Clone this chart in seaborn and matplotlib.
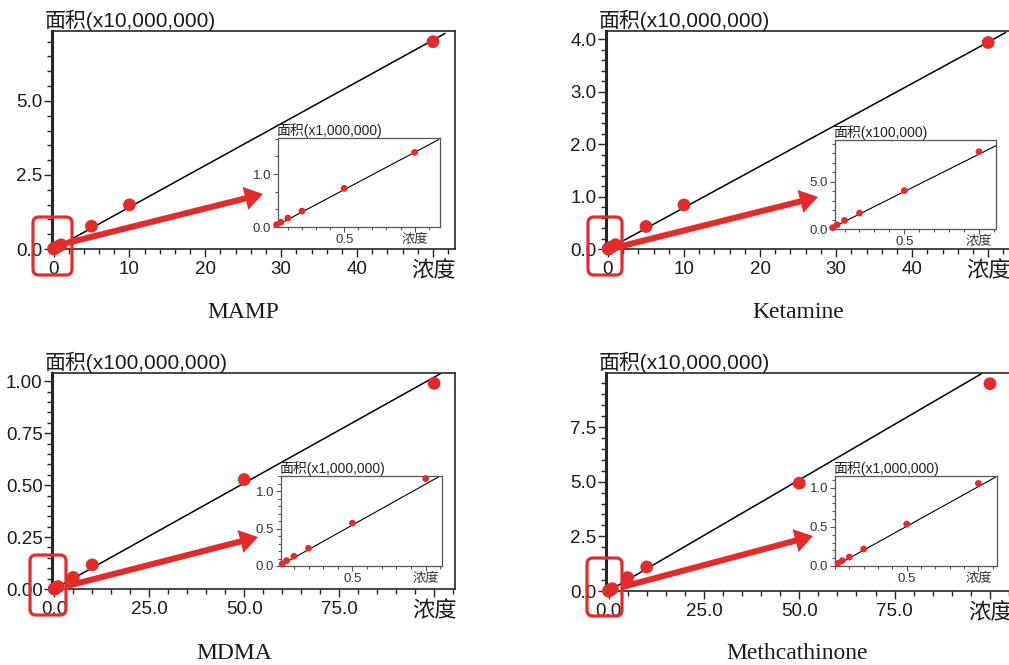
import numpy as np
import pandas as pd
import seaborn as sns
import matplotlib.pyplot as plt
from matplotlib.patches import FancyBboxPatch, FancyArrowPatch
from matplotlib.ticker import MultipleLocator

# low standards (shown in the insets) and high standards (main plots)
low_conc = [0.02, 0.05, 0.1, 0.2, 0.5, 1.0]
high_conc_50 = [5, 10, 50]
high_conc_100 = [5, 10, 50, 100]

# MAMP  (inset x1,000,000 / main x10,000,000)
mamp_low = [0.045, 0.09, 0.17, 0.30, 0.73, 1.41]
mamp_high = [0.77, 1.49, 7.0]
mamp_fit_x, mamp_fit_y = [0, 51.6], [0, 7.28]
mamp_in_fit_x, mamp_in_fit_y = [0, 1.17], [0, 1.65]

# Ketamine  (inset x100,000 / main x10,000,000)
ket_low = [0.14, 0.45, 0.90, 1.68, 4.05, 8.15]
ket_high = [0.43, 0.84, 3.94]
ket_fit_x, ket_fit_y = [0, 52.3], [0, 4.13]
ket_in_fit_x, ket_in_fit_y = [0, 1.114], [0, 8.78]

# MDMA  (inset x1,000,000 / main x100,000,000)
mdma_low = [0.027, 0.072, 0.13, 0.237, 0.572, 1.165]
mdma_high = [0.056, 0.116, 0.527, 0.99]
mdma_fit_x, mdma_fit_y = [0, 101.6], [0, 1.036]
mdma_in_fit_x, mdma_in_fit_y = [0, 1.09], [0, 1.19]

# Methcathinone  (inset x1,000,000 / main x10,000,000)
meth_low = [0.034, 0.068, 0.115, 0.217, 0.536, 1.055]
meth_high = [0.61, 1.10, 4.93, 9.48]
meth_fit_x, meth_fit_y = [0, 97.7], [0, 9.93]
meth_in_fit_x, meth_in_fit_y = [0, 1.124], [0, 1.14]

x_labels_50 = ["0", "10", "20", "30", "40", "浓度"]
x_labels_100 = ["0.0", "25.0", "50.0", "75.0", "浓度"]

W, H = 1009, 665
red = "#e42b2b"

sns.set_style("ticks")
plt.rcParams["font.family"] = ["Liberation Sans", "Noto Sans CJK SC"]

fig = plt.figure(figsize=(W / 100, H / 100), dpi=100)


def rect(l, t, r, b):
    return [l / W, 1 - b / H, (r - l) / W, (b - t) / H]


def inch(x, y):
    return (x / 100, (H - y) / 100)


panels = [
    dict(name="MAMP", low=mamp_low, high=mamp_high, hc=high_conc_50, scale=0.1,
         fit=(mamp_fit_x, mamp_fit_y), in_fit=(mamp_in_fit_x, mamp_in_fit_y),
         main=rect(52, 31, 455, 249), inset=rect(278, 138, 440, 227),
         xlim=(-0.2, 52.9), ylim=(0, 7.36), xt=[0, 10, 20, 30, 40, 50], xl=x_labels_50, xm=2,
         yt=[0, 2.5, 5.0], yl=["0.0", "2.5", "5.0"], ym=0.5, ylab="面积(x10,000,000)",
         in_xlim=(0.03, 1.18), in_ylim=(0, 1.68), in_yt=[0, 1.0], in_yl=["0.0", "1.0"], in_ym=1 / 3,
         in_lab="面积(x1,000,000)", box=(33, 217, 72, 275), arrow=((67, 243), (263, 194)),
         title=(243, 318)),
    dict(name="Ketamine", low=ket_low, high=ket_high, hc=high_conc_50, scale=0.01,
         fit=(ket_fit_x, ket_fit_y), in_fit=(ket_in_fit_x, ket_in_fit_y),
         main=rect(606, 31, 1011, 249), inset=rect(835, 140, 996, 229),
         xlim=(-0.26, 53.0), ylim=(0, 4.16), xt=[0, 10, 20, 30, 40, 50], xl=x_labels_50, xm=2,
         yt=[0, 1, 2, 3, 4], yl=["0.0", "1.0", "2.0", "3.0", "4.0"], ym=0.2, ylab="面积(x10,000,000)",
         in_xlim=(0.036, 1.114), in_ylim=(0, 9.38), in_yt=[0, 5.0], in_yl=["0.0", "5.0"], in_ym=1.0,
         in_lab="面积(x100,000)", box=(588, 217, 622, 275), arrow=((622, 246), (818, 197)),
         title=(798, 318)),
    dict(name="MDMA", low=mdma_low, high=mdma_high, hc=high_conc_100, scale=0.01,
         fit=(mdma_fit_x, mdma_fit_y), in_fit=(mdma_in_fit_x, mdma_in_fit_y),
         main=rect(52, 373, 455, 589), inset=rect(281, 476, 442, 566),
         xlim=(-0.6, 105.5), ylim=(0, 1.04), xt=[0, 25, 50, 75, 100], xl=x_labels_100, xm=5,
         yt=[0, 0.25, 0.5, 0.75, 1.0], yl=["0.00", "0.25", "0.50", "0.75", "1.00"], ym=0.05,
         ylab="面积(x100,000,000)",
         in_xlim=(0.012, 1.112), in_ylim=(0, 1.2), in_yt=[0, 0.5, 1.0], in_yl=["0.0", "0.5", "1.0"], in_ym=0.1,
         in_lab="面积(x1,000,000)", box=(30, 555, 66, 615), arrow=((67, 586), (258, 537)),
         title=(234, 659)),
    dict(name="Methcathinone", low=meth_low, high=meth_high, hc=high_conc_100, scale=0.1,
         fit=(meth_fit_x, meth_fit_y), in_fit=(meth_in_fit_x, meth_in_fit_y),
         main=rect(606, 373, 1011, 591), inset=rect(835, 476, 997, 566),
         xlim=(-0.66, 105.5), ylim=(0, 9.97), xt=[0, 25, 50, 75, 100], xl=x_labels_100, xm=5,
         yt=[0, 2.5, 5.0, 7.5], yl=["0.0", "2.5", "5.0", "7.5"], ym=0.5, ylab="面积(x10,000,000)",
         in_xlim=(0.0, 1.13), in_ylim=(0, 1.15), in_yt=[0, 0.5, 1.0], in_yl=["0.0", "0.5", "1.0"], in_ym=0.1,
         in_lab="面积(x1,000,000)", box=(587, 558, 622, 616), arrow=((622, 587), (813, 536)),
         title=(797, 659)),
]

for p in panels:
    # main calibration plot
    ax = fig.add_axes(p["main"])
    mx = low_conc + p["hc"]
    my = [v * p["scale"] for v in p["low"]] + p["high"]
    sns.lineplot(x=p["fit"][0], y=p["fit"][1], ax=ax, color="black", lw=1.1, zorder=2)
    sns.scatterplot(x=mx, y=my, ax=ax, color=red, s=85, edgecolor="none",
                    clip_on=False, zorder=3, legend=False)
    ax.set_xlim(p["xlim"])
    ax.set_ylim(p["ylim"])
    ax.set_xticks(p["xt"], p["xl"])
    ax.set_yticks(p["yt"], p["yl"])
    ax.xaxis.set_minor_locator(MultipleLocator(p["xm"]))
    ax.yaxis.set_minor_locator(MultipleLocator(p["ym"]))
    ax.tick_params(which="major", length=5.8, width=1, labelsize=13.5, labelcolor="#1a1a1a")
    ax.tick_params(which="minor", length=3.6, width=1)
    ax.tick_params(axis="x", pad=3)
    ax.tick_params(axis="y", pad=1)
    for t in ax.get_xticklabels():
        if t.get_text() == "浓度":
            t.set_fontsize(16)
    for s in ["top", "right", "bottom"]:
        ax.spines[s].set_linewidth(1.2)
    ax.spines["left"].set_linewidth(2.2)
    ax.set_xlabel("")
    ax.set_ylabel("")
    ax.annotate(p["ylab"], xy=(0, 1), xycoords="axes fraction", xytext=(-7, 0),
                textcoords="offset pixels", ha="left", va="bottom", fontsize=15, color="#1a1a1a")

    # inset with the low standards
    axin = fig.add_axes(p["inset"])
    sns.lineplot(x=p["in_fit"][0], y=p["in_fit"][1], ax=axin, color="black", lw=0.8, zorder=2)
    sns.scatterplot(x=low_conc, y=p["low"], ax=axin, color=red, s=24, edgecolor="none",
                    clip_on=False, zorder=3, legend=False)
    axin.set_xlim(p["in_xlim"])
    axin.set_ylim(p["in_ylim"])
    axin.set_xticks([0.5, 1.0], ["0.5", "浓度"])
    axin.set_yticks(p["in_yt"], p["in_yl"])
    axin.xaxis.set_minor_locator(MultipleLocator(0.1))
    axin.yaxis.set_minor_locator(MultipleLocator(p["in_ym"]))
    axin.tick_params(which="major", length=3.5, width=0.8, labelsize=9.5, color="#555555",
                     labelcolor="#333333", pad=1.5)
    axin.tick_params(which="minor", length=2, width=0.8, color="#555555")
    for s in axin.spines.values():
        s.set_color("#555555")
        s.set_linewidth(0.9)
    axin.set_xlabel("")
    axin.set_ylabel("")
    axin.annotate(p["in_lab"], xy=(0, 1), xycoords="axes fraction", xytext=(-2, 0),
                  textcoords="offset pixels", ha="left", va="bottom", fontsize=10, color="#222222")

    # red frame around the origin and arrow to the inset
    x0, y0, x1, y1 = p["box"]
    fig.add_artist(FancyBboxPatch(inch(x0, y1), (x1 - x0) / 100, (y1 - y0) / 100,
                                  boxstyle="round,pad=0,rounding_size=0.06",
                                  transform=fig.dpi_scale_trans, fill=False, ec=red, lw=2.3, zorder=10))
    (sx, sy), (tx, ty) = p["arrow"]
    fig.add_artist(FancyArrowPatch(inch(sx, sy), inch(tx, ty), transform=fig.dpi_scale_trans,
                                   arrowstyle="simple,head_length=0.65,head_width=0.85,tail_width=0.22",
                                   mutation_scale=20, lw=0, fc=red, ec="none",
                                   shrinkA=0, shrinkB=0, zorder=10))

    cx, cy = p["title"]
    fig.text(cx / W, 1 - cy / H, p["name"], ha="center", va="baseline",
             family="Liberation Serif", fontsize=17, color="#1a1a1a")

plt.savefig("out.png", dpi=100)
